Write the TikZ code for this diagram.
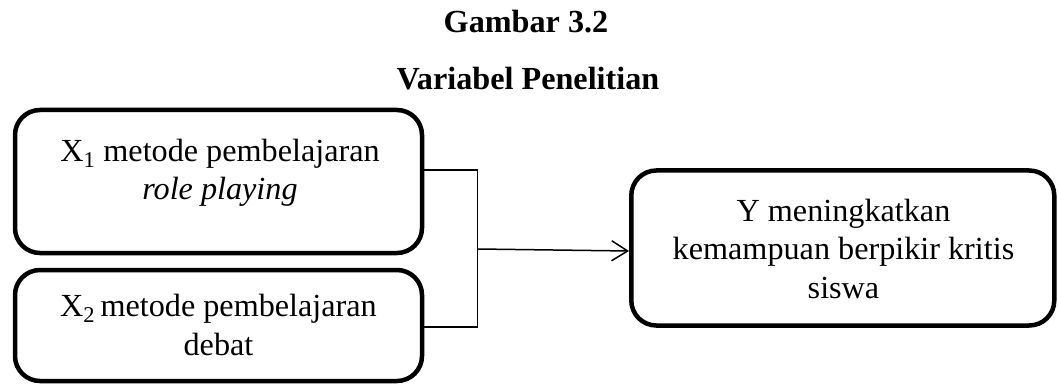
\documentclass[tikz,border=0pt]{standalone}
\usepackage{fontspec}
\setmainfont{Liberation Serif}
\usetikzlibrary{arrows.meta}
\begin{document}
\begin{tikzpicture}[x=1pt,y=-1pt,
  txt/.style={font=\fontsize{32.2}{38.5}\selectfont, align=center, inner sep=0pt},
  varbox/.style={draw, line width=4.5pt, rounded corners=25pt, inner sep=0pt},
  conn/.style={line width=1.5pt},
  arr/.style={conn, -{Straight Barb[length=16pt,width=20pt,line width=1.5pt]}}]
  \useasboundingbox (0,0) rectangle (1058,385);

  % title
  \node[txt, anchor=base] (t1) at (526,33) {\bfseries Gambar 3.2};
  \node[txt, anchor=base] (t2) at (528,90) {\bfseries Variabel Penelitian};

  % independent variables
  \node[varbox, minimum width=407pt, minimum height=143pt] (x1) at (218.5,181.5) {};
  \node[txt, anchor=base] (x1t) at (220,200) {X\textsubscript{1} metode pembelajaran\\\textit{role playing}};

  \node[varbox, minimum width=407pt, minimum height=111pt] (x2) at (218.5,325.5) {};
  \node[txt, anchor=base] (x2t) at (218.5,355) {X\textsubscript{2}\,metode pembelajaran\\debat};

  % dependent variable
  \node[varbox, minimum width=423pt, minimum height=155pt, txt, draw, line width=4.5pt] (y) at (842.8,248) {};
  \node[txt, anchor=base] (yt) at (843.5,298.3) {Y meningkatkan\\kemampuan berpikir kritis\\siswa};

  % bracket joining X1 and X2
  \coordinate (jt) at (477.5,170);
  \coordinate (jb) at (477.5,327);
  \coordinate (jm) at (477.5,249);
  \draw[conn] (x1.east |- jt) -- (jt) -- (jb) -- (x2.east |- jb);
  \draw[arr] (jm) -- ([yshift=-3pt]y.west);
\end{tikzpicture}
\end{document}
